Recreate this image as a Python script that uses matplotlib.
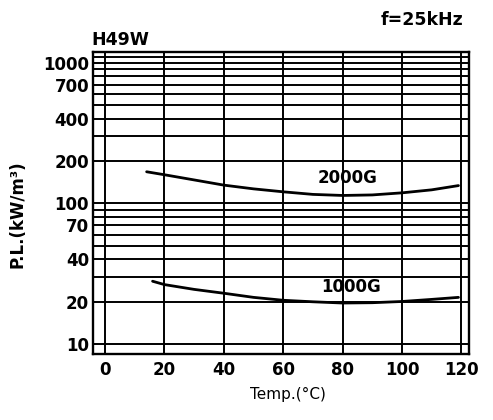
import matplotlib
matplotlib.use("Agg")
import matplotlib.pyplot as plt
from matplotlib.ticker import FixedLocator, NullFormatter, FixedFormatter

# Data (temperature in °C, power loss in kW/m^3)
temp_2000 = [14, 20, 30, 40, 50, 60, 70, 80, 90, 100, 110, 119]
pl_2000 = [168, 160, 147, 135, 127, 121, 116, 114, 115, 119, 125, 134]

temp_1000 = [16, 20, 30, 40, 50, 60, 70, 80, 90, 100, 110, 119]
pl_1000 = [28, 26.5, 24.5, 23, 21.5, 20.5, 20.0, 19.6, 19.7, 20.1, 20.8, 21.5]

x_ticks = [0, 20, 40, 60, 80, 100, 120]
y_labels = [10, 20, 40, 70, 100, 200, 400, 700, 1000]
y_grid = [10, 20, 30, 40, 50, 60, 70, 80, 90, 100, 200, 300, 400, 500,
          600, 700, 800, 900, 1000, 1100]

plt.rcParams['font.family'] = ['DejaVu Sans']
plt.rcParams['font.weight'] = 'bold'

fig = plt.figure(figsize=(4.93, 4.20), dpi=100)
ax = fig.add_axes([0.189, 0.157, 0.762, 0.72])

ax.set_yscale('log')
ax.set_xlim(-4, 122.5)
ax.set_ylim(8.5, 1200)

ax.plot(temp_2000, pl_2000, color='black', lw=2.0, solid_capstyle='round')
ax.plot(temp_1000, pl_1000, color='black', lw=2.0, solid_capstyle='round')

# gridlines
ax.yaxis.set_major_locator(FixedLocator(y_labels))
ax.yaxis.set_major_formatter(FixedFormatter([str(v) for v in y_labels]))
ax.yaxis.set_minor_locator(FixedLocator([v for v in y_grid if v not in y_labels]))
ax.yaxis.set_minor_formatter(NullFormatter())
ax.xaxis.set_major_locator(FixedLocator(x_ticks))
ax.grid(True, which='both', axis='both', color='black', lw=1.4)
ax.set_axisbelow(True)

for s in ax.spines.values():
    s.set_linewidth(1.7)
    s.set_color('black')

ax.tick_params(axis='both', which='both', length=0, labelsize=12)
ax.tick_params(axis='y', pad=3)
ax.tick_params(axis='x', pad=5)

ax.text(81.5, 152, '2000G', ha='center', va='center', fontsize=12, fontweight='bold')
ax.text(83, 25.5, '1000G', ha='center', va='center', fontsize=12, fontweight='bold')

fig.text(0.186, 0.905, 'H49W', ha='left', va='center', fontsize=12.5, fontweight='bold')
fig.text(0.94, 0.952, 'f=25kHz', ha='right', va='center', fontsize=12.5, fontweight='bold')
fig.text(0.585, 0.06, 'Temp.(°C)', ha='center', va='center', fontsize=11, fontweight='normal')
fig.text(0.036, 0.49, 'P.L.(kW/m³)', ha='center', va='center', rotation=90, fontsize=12, fontweight='bold')

fig.savefig('out.png', dpi=100)
